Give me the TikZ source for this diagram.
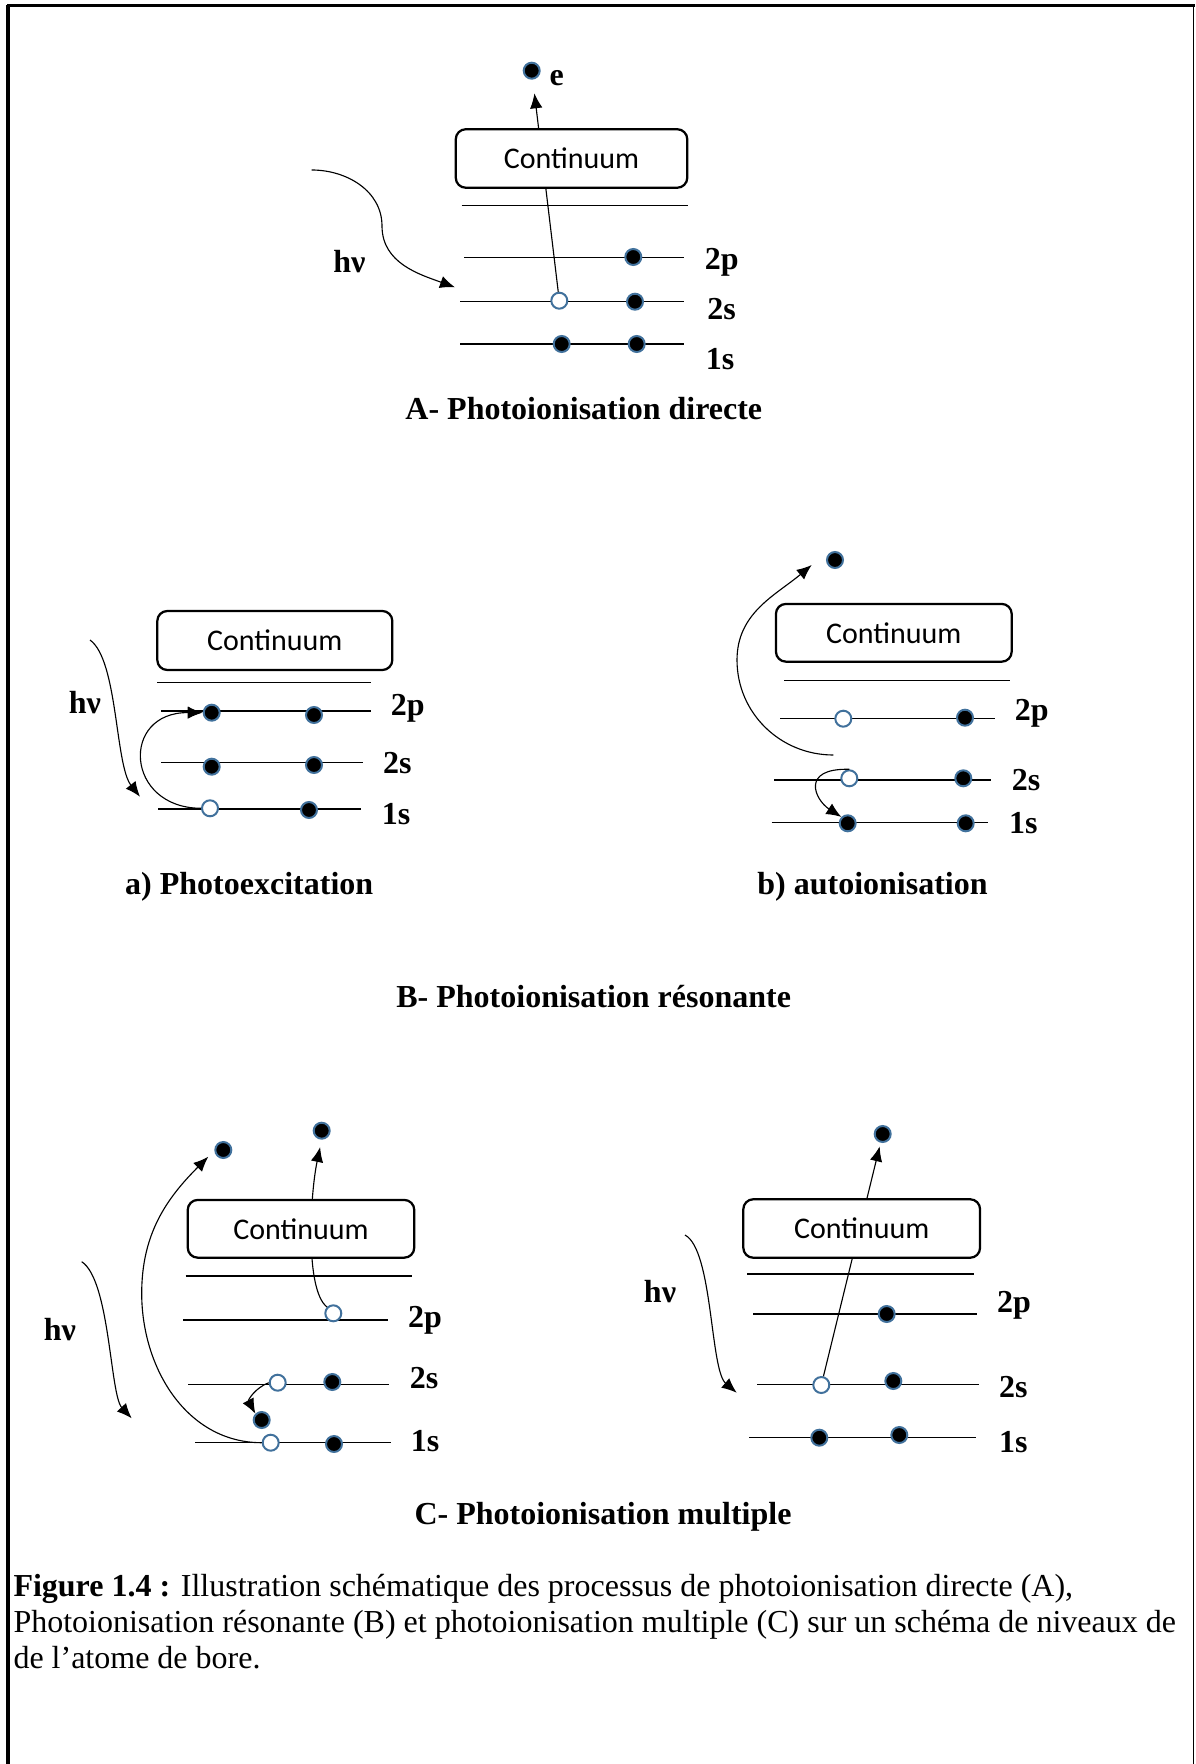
\documentclass[tikz,border=0pt]{standalone}
\usepackage{fontspec}
\setmainfont{Liberation Serif}
\newfontfamily\calibrifont{Carlito}
\usetikzlibrary{arrows.meta}
\definecolor{elecblue}{RGB}{65,113,156}
\tikzset{
  elec/.style={circle,draw=elecblue,fill=black,line width=0.8pt,inner sep=0pt,minimum size=6.4pt},
  hole/.style={elec,fill=white},
  contbox/.style={draw,fill=white,rounded corners=4pt,line width=0.9pt,font=\calibrifont\fontsize{12}{14}\selectfont,minimum width=94pt,minimum height=23.4pt},
  level/.style={line width=0.5pt},
  orb/.style={font=\bfseries\fontsize{12.8}{15}\selectfont,inner sep=0pt},
  heading/.style={font=\bfseries\fontsize{12.8}{15}\selectfont,inner sep=0pt},
  ray/.style={line width=0.45pt,-{Latex[length=6pt,width=5pt]}},
  capline/.style={anchor=base west,inner sep=0pt,font=\fontsize{12.8}{14.4}\selectfont}
}
\begin{document}
\begin{tikzpicture}[x=0.4pt,y=0.4pt]
\useasboundingbox (0,0) rectangle (1195,-1764);
\draw[line width=1.6pt] (8,-1764) -- (8,-5.5);
\draw[line width=1.3pt] (7.2,-5.5) -- (1195,-5.5);
\draw[line width=0.6pt] (1193.5,-5.5) -- (1193.5,-1764);

% A- photoionisation directe
\draw[level] (461.7,-205.7) -- (688.3,-205.7);
\draw[level] (464,-257.7) -- (684.3,-257.7);
\draw[level] (460,-301.7) -- (684.3,-301.7);
\draw[level] (460,-344) -- (684.3,-344);
\node[elec] (Ae) at (531.7,-70.7) {};
\node[orb] (Aelab) at (556.7,-78.3) {e};
\node[elec] (A2p) at (633.3,-257) {};
\node[hole] (A2sa) at (559.3,-300.7) {};
\node[elec] (A2sb) at (635,-301.7) {};
\node[elec] (A1sa) at (561.7,-344) {};
\node[elec] (A1sb) at (636.7,-344) {};
\draw[ray,shorten >=5.5pt] (A2sa) -- (Ae);
\node[contbox,minimum width=92.6pt] (Acont) at (571.5,-158.5) {Continuum};
\node[orb] (A2plab) at (721.7,-262.7) {2p};
\node[orb] (A2slab) at (721.7,-309.3) {2s};
\node[orb] (A1slab) at (720,-359.3) {1s};
\node[orb] (Ahv) at (349.3,-261.7) {hν};
\coordinate (Ahv0) at (311.7,-170);
\coordinate (Ahv1) at (455,-287.3);
\draw[ray] (Ahv0) to[out=0,in=90] (382,-226) to[out=-90,in=160] (Ahv1);
\node[heading] (Atitle) at (583.8,-408.3) {A- Photoionisation directe};

% B a) photoexcitation
\draw[level] (157.3,-682.7) -- (370.7,-682.7);
\draw[level] (161,-711) -- (370.7,-711);
\draw[level] (161,-762.7) -- (362.7,-762.7);
\draw[level] (158.3,-809) -- (360.7,-809);
\node[elec] (Ba2pa) at (211.7,-712.7) {};
\node[elec] (Ba2pb) at (314,-715) {};
\node[elec] (Ba2sa) at (211.7,-766.7) {};
\node[elec] (Ba2sb) at (314,-765) {};
\node[hole] (Ba1sa) at (210,-808.3) {};
\node[elec] (Ba1sb) at (309,-810) {};
\node[contbox,minimum height=23.6pt] (Bacont) at (274.8,-640.5) {Continuum};
\node[orb] (Ba2plab) at (407.7,-708.3) {2p};
\node[orb] (Ba2slab) at (397.3,-763.3) {2s};
\node[orb] (Ba1slab) at (396,-814) {1s};
\node[orb] (Bahv) at (85,-702.7) {hν};
\coordinate (Bahv0) at (90,-640);
\coordinate (Bahv1) at (140,-796.7);
\draw[ray] (Bahv0) .. controls (118,-660) and (115,-765) .. (Bahv1);
\draw[ray] (Ba1sa.west) .. controls (125,-808) and (120,-712) .. (Ba2pa.west);
\node[heading] (Batitle) at (249.2,-886.7) {a) Photoexcitation};

% B b) autoionisation
\draw[level] (784,-680.7) -- (1010,-680.7);
\draw[level] (780,-718.7) -- (995,-718.7);
\draw[level] (774,-780) -- (990.7,-780);
\draw[level] (771.7,-822.7) -- (988.3,-822.7);
\node[elec] (Bbe) at (835,-560) {};
\node[hole] (Bb2pa) at (843.3,-718.7) {};
\node[elec] (Bb2pb) at (965,-717.7) {};
\node[hole] (Bb2sa) at (849.3,-778.3) {};
\node[elec] (Bb2sb) at (963.3,-778.3) {};
\node[elec] (Bb1sa) at (847.7,-823.3) {};
\node[elec] (Bb1sb) at (965.7,-823.3) {};
\node[contbox,minimum width=94.3pt,minimum height=23.1pt] (Bbcont) at (893.8,-632.8) {Continuum};
\node[orb] (Bb2plab) at (1031.7,-713.3) {2p};
\node[orb] (Bb2slab) at (1026,-780) {2s};
\node[orb] (Bb1slab) at (1023.3,-823.3) {1s};
\coordinate (Bbs) at (833.3,-755);
\coordinate (Bbt) at (811.7,-565);
\draw[ray] (Bbs) to[out=180,in=-90] (737,-660) to[out=90,in=-140] (Bbt);
\draw[ray] (Bb2sa.north) .. controls (800,-768) and (815,-800) .. (Bb1sa.north west);
\node[heading] (Bbtitle) at (872.5,-886.7) {b) autoionisation};

\node[heading] (Btitle) at (593.7,-996.7) {B- Photoionisation résonante};

% C- photoionisation multiple, left
\draw[level] (185.7,-1276) -- (412.3,-1276);
\draw[level] (183.3,-1320) -- (388.3,-1320);
\draw[level] (188.3,-1384.3) -- (389.3,-1384.3);
\draw[level] (195,-1442.7) -- (390.7,-1442.7);
\node[elec] (Cle1) at (223.3,-1150) {};
\node[elec] (Cle2) at (321.7,-1130.7) {};
\node[hole] (Cl2p) at (333.3,-1313.3) {};
\node[hole] (Cl2sa) at (277.7,-1382.7) {};
\node[elec] (Cl2sb) at (332.3,-1382) {};
\node[elec] (Clx) at (261.7,-1420) {};
\node[hole] (Cl1sa) at (270.7,-1442.7) {};
\node[elec] (Cl1sb) at (334,-1444) {};
\draw[ray,shorten >=3pt] (Cl2p.north west) .. controls (305,-1290) and (310,-1195) .. (Cle2.south);
\node[contbox,minimum width=90.6pt,minimum height=23.1pt] (Clcont) at (301,-1228.8) {Continuum};
\coordinate (Clt) at (208.3,-1156.7);
\draw[ray] (Cl1sa.west) to[out=180,in=-90] (141.7,-1293.3) to[out=90,in=-135] (Clt);
\draw[ray] (Cl2sa.west) .. controls (255,-1388) and (248,-1400) .. (Clx.north west);
\node[orb] (Cl2plab) at (425,-1320) {2p};
\node[orb] (Cl2slab) at (424,-1378.3) {2s};
\node[orb] (Cl1slab) at (425,-1440.7) {1s};
\node[orb] (Clhv) at (60,-1330) {hν};
\coordinate (Clhv0) at (81.7,-1261.7);
\coordinate (Clhv1) at (131.7,-1418.3);
\draw[ray] (Clhv0) .. controls (110,-1280) and (110,-1395) .. (Clhv1);

% C- photoionisation multiple, right
\draw[level] (747.3,-1274) -- (974,-1274);
\draw[level] (753.3,-1314) -- (976.7,-1314);
\draw[level] (757.3,-1384.3) -- (979,-1384.3);
\draw[level] (749.3,-1437.7) -- (976,-1437.7);
\node[elec] (Cre) at (882.7,-1134) {};
\node[elec] (Cr2p) at (886.7,-1314) {};
\node[hole] (Cr2sa) at (821.3,-1385) {};
\node[elec] (Cr2sb) at (893.3,-1381) {};
\node[elec] (Cr1sa) at (819.3,-1437.7) {};
\node[elec] (Cr1sb) at (899.3,-1435) {};
\draw[ray,shorten >=1.5pt] (Cr2sa) -- (Cre);
\node[contbox,minimum width=94.7pt] (Crcont) at (861.7,-1228.5) {Continuum};
\node[orb] (Cr2plab) at (1014,-1305) {2p};
\node[orb] (Cr2slab) at (1013.3,-1386.7) {2s};
\node[orb] (Cr1slab) at (1013.3,-1441.7) {1s};
\node[orb] (Crhv) at (660,-1291.7) {hν};
\coordinate (Crhv0) at (685,-1235);
\coordinate (Crhv1) at (736.7,-1392.7);
\draw[ray] (Crhv0) .. controls (713,-1250) and (710,-1370) .. (Crhv1);

\node[heading] (Ctitle) at (603,-1517) {C- Photoionisation multiple};

% caption
\node[capline] (cap1) at (13,-1596) {\textbf{Figure 1.4 :} Illustration schématique des processus de photoionisation directe (A),};
\node[capline] (cap2) at ([yshift=-14.4pt]cap1.base west) {Photoionisation résonante (B) et photoionisation multiple (C) sur un schéma de niveaux de};
\node[capline] (cap3) at ([yshift=-14.4pt]cap2.base west) {de l’atome de bore.};
\end{tikzpicture}
\end{document}
